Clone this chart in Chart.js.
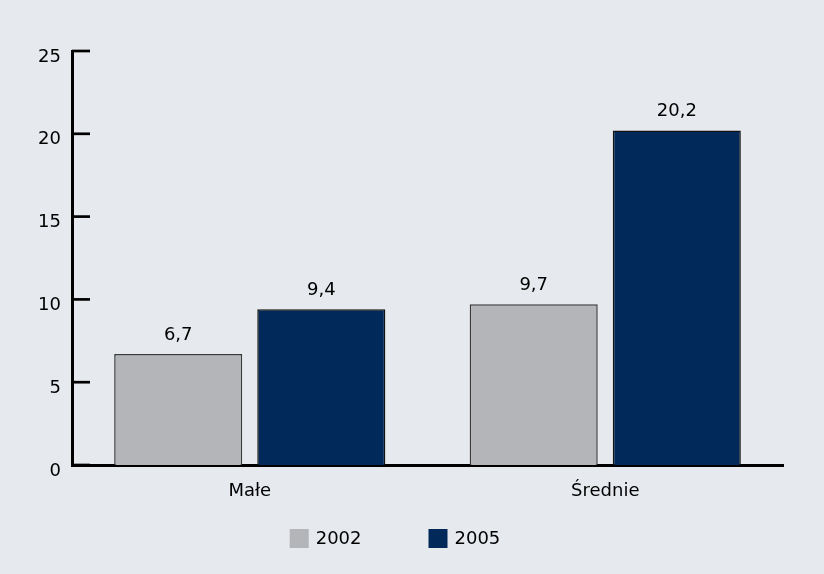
<!DOCTYPE html>
<html>
<head>
<meta charset="utf-8">
<script src="https://cdn.jsdelivr.net/npm/chart.js@4/dist/chart.umd.min.js"></script>
<style>
  html, body { margin: 0; padding: 0; background: #e6e9ee; }
  #wrap { width: 824px; height: 574px; position: relative; }
</style>
</head>
<body>
<div id="wrap"><canvas id="c" width="824" height="574"></canvas></div>
<script>
const categories = ['Małe', 'Średnie'];
const seriesNames = ['2002', '2005'];
const values2002 = [6.7, 9.7];
const values2005 = [9.4, 20.2];
const yTicks = [0, 5, 10, 15, 20, 25];

const FONT = '"DejaVu Sans", sans-serif';
const FONT_SIZE = 18;
const fmt = v => v.toFixed(1).replace('.', ',');

// Short tick marks drawn on the inner side of the value axis
const innerTicks = {
  id: 'innerTicks',
  afterDatasetsDraw(chart) {
    const y = chart.scales.y;
    const ctx = chart.ctx;
    const x0 = chart.chartArea.left;
    ctx.save();
    ctx.strokeStyle = '#000';
    ctx.lineWidth = 2.7;
    yTicks.forEach(t => {
      const py = y.getPixelForValue(t);
      ctx.beginPath();
      ctx.moveTo(x0, py);
      ctx.lineTo(x0 + 18, py);
      ctx.stroke();
    });
    ctx.restore();
  }
};

// Value labels above each bar
const barLabels = {
  id: 'barLabels',
  afterDatasetsDraw(chart) {
    const ctx = chart.ctx;
    ctx.save();
    ctx.fillStyle = '#000';
    ctx.font = FONT_SIZE + 'px ' + FONT;
    ctx.textAlign = 'center';
    ctx.textBaseline = 'alphabetic';
    chart.data.datasets.forEach((ds, i) => {
      chart.getDatasetMeta(i).data.forEach((bar, j) => {
        ctx.fillText(fmt(ds.data[j]), bar.x, bar.y - 14);
      });
    });
    ctx.restore();
  }
};

// Legend row under the category labels
const bottomLegend = {
  id: 'bottomLegend',
  afterDraw(chart) {
    const ctx = chart.ctx;
    const box = 19, textGap = 7, itemGap = 67, centerX = 395, topY = 529;
    ctx.save();
    ctx.font = FONT_SIZE + 'px ' + FONT;
    const items = chart.data.datasets.map(ds => ({
      text: ds.label,
      color: ds.backgroundColor,
      w: box + textGap + ctx.measureText(ds.label).width
    }));
    const total = items.reduce((s, it) => s + it.w, 0) + itemGap * (items.length - 1);
    let x = centerX - total / 2;
    ctx.textBaseline = 'middle';
    ctx.textAlign = 'left';
    items.forEach(it => {
      ctx.fillStyle = it.color;
      ctx.fillRect(x, topY, box, box);
      ctx.fillStyle = '#000';
      ctx.fillText(it.text, x + box + textGap, topY + box / 2 + 1);
      x += it.w + itemGap;
    });
    ctx.restore();
  }
};

new Chart(document.getElementById('c'), {
  type: 'bar',
  data: {
    labels: categories,
    datasets: [
      {
        label: seriesNames[0],
        data: values2002,
        backgroundColor: '#b4b5b8',
        borderColor: '#3a3a3a',
        borderWidth: 1.5
      },
      {
        label: seriesNames[1],
        data: values2005,
        backgroundColor: '#012a5a',
        borderColor: '#111',
        borderWidth: 1.5
      }
    ]
  },
  options: {
    responsive: false,
    animation: false,
    layout: { padding: { left: 0, right: 41, top: 51, bottom: 0 } },
    categoryPercentage: 0.805,
    barPercentage: 0.895,
    plugins: {
      legend: { display: false },
      tooltip: { enabled: false }
    },
    scales: {
      x: {
        grid: { display: false },
        border: { color: '#000', width: 3 },
        ticks: { color: '#000', font: { family: FONT, size: FONT_SIZE }, padding: 8 },
        afterFit(scale) { scale.height = 109; }
      },
      y: {
        min: 0,
        max: 25,
        afterBuildTicks(scale) { scale.ticks = yTicks.map(v => ({ value: v })); },
        grid: { display: false, drawTicks: false },
        border: { color: '#000', width: 3 },
        ticks: { color: '#000', font: { family: FONT, size: FONT_SIZE }, padding: 11, labelOffset: 6 },
        afterFit(scale) { scale.width = 72; }
      }
    }
  },
  plugins: [innerTicks, barLabels, bottomLegend]
});
</script>
</body>
</html>
